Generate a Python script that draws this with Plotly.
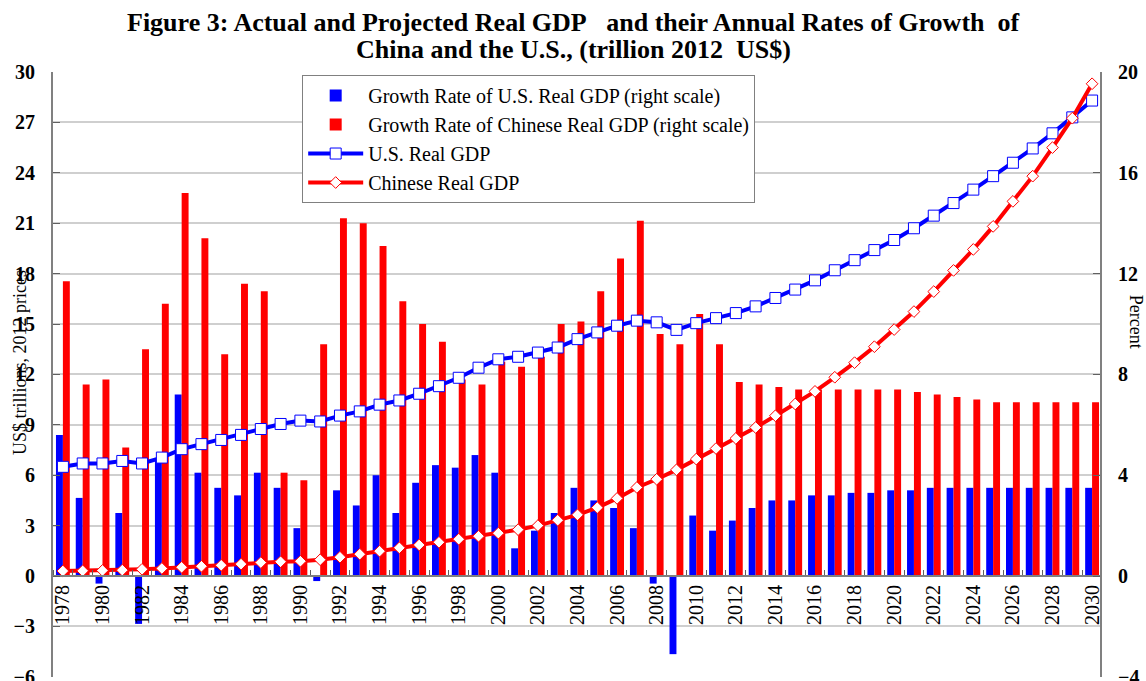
import plotly.graph_objects as go

# Data
years = list(range(1978, 2031))

us_growth = [5.6, 3.1, -0.3, 2.5, -1.9, 4.6, 7.2, 4.1, 3.5, 3.2,
             4.1, 3.5, 1.9, -0.2, 3.4, 2.8, 4.0, 2.5, 3.7, 4.4,
             4.3, 4.8, 4.1, 1.1, 1.8, 2.5, 3.5, 3.0, 2.7, 1.9,
             -0.3, -3.1, 2.4, 1.8, 2.2, 2.7, 3.0, 3.0, 3.2, 3.2,
             3.3, 3.3, 3.4, 3.4, 3.5, 3.5, 3.5, 3.5, 3.5, 3.5,
             3.5, 3.5, 3.5]

china_growth = [11.7, 7.6, 7.8, 5.1, 9.0, 10.8, 15.2, 13.4, 8.8, 11.6,
                11.3, 4.1, 3.8, 9.2, 14.2, 14.0, 13.1, 10.9, 10.0, 9.3,
                7.8, 7.6, 8.5, 8.3, 8.7, 10.0, 10.1, 11.3, 12.6, 14.1,
                9.6, 9.2, 10.4, 9.2, 7.7, 7.6, 7.5, 7.4, 7.4, 7.4,
                7.4, 7.4, 7.4, 7.3, 7.2, 7.1, 7.0, 6.9, 6.9, 6.9,
                6.9, 6.9, 6.9]

us_gdp = [6.5, 6.7, 6.7, 6.85, 6.7, 7.05, 7.55, 7.85, 8.1, 8.4,
          8.75, 9.05, 9.25, 9.2, 9.55, 9.8, 10.2, 10.45, 10.85, 11.3,
          11.8, 12.4, 12.9, 13.05, 13.3, 13.6, 14.1, 14.5, 14.9, 15.2,
          15.1, 14.65, 15.05, 15.35, 15.65, 16.05, 16.55, 17.05, 17.6, 18.2,
          18.8, 19.4, 20.0, 20.7, 21.45, 22.2, 23.0, 23.8, 24.6, 25.45,
          26.35, 27.3, 28.3]

china_gdp = [0.3, 0.31, 0.33, 0.35, 0.4, 0.45, 0.52, 0.58, 0.64, 0.71,
             0.8, 0.85, 0.88, 0.97, 1.12, 1.3, 1.48, 1.68, 1.85, 2.01,
             2.19, 2.37, 2.55, 2.76, 3.0, 3.32, 3.64, 4.07, 4.62, 5.27,
             5.76, 6.32, 6.96, 7.59, 8.19, 8.84, 9.54, 10.24, 10.99, 11.83,
             12.7, 13.65, 14.67, 15.74, 16.93, 18.19, 19.44, 20.81, 22.3, 23.8,
             25.5, 27.25, 29.3]

serif = "Liberation Serif"

# small extra below the bottom so the -6 / -4 ticks still get drawn,
# both axes stretched the same way so the zeros line up
e = 0.01
left_range = [-6 - e, 30]
right_range = [-4 - e * 2 / 3, 20]
zero_pos = (6 + e) / (36 + e)

fig = go.Figure()

# growth bars on the right (percent) axis
fig.add_trace(go.Bar(x=years, y=us_growth, name="Growth Rate of U.S. Real GDP (right scale)",
                     marker=dict(color="#0000ff", line=dict(width=0)), yaxis="y"))
fig.add_trace(go.Bar(x=years, y=china_growth, name="Growth Rate of Chinese Real GDP (right scale)",
                     marker=dict(color="#ff0000", line=dict(width=0)), yaxis="y"))

# GDP lines on the left (trillion) axis, overlaid so they sit on top of the bars
fig.add_trace(go.Scatter(x=years, y=us_gdp, name="U.S. Real GDP", mode="lines+markers",
                         line=dict(color="#0000ff", width=4),
                         marker=dict(symbol="square", size=11, color="white",
                                     line=dict(color="#0000ff", width=1)),
                         yaxis="y2"))
fig.add_trace(go.Scatter(x=years, y=china_gdp, name="Chinese Real GDP", mode="lines+markers",
                         line=dict(color="#ff0000", width=4),
                         marker=dict(symbol="diamond", size=9, color="white",
                                     line=dict(color="#ff0000", width=1)),
                         yaxis="y2"))

fig.update_layout(
    width=1146, height=681,
    margin=dict(l=53, r=46, t=72, b=4, autoexpand=False),
    paper_bgcolor="white", plot_bgcolor="white",
    barmode="group", bargap=0.3, bargroupgap=0,
    font=dict(family=serif, color="black"),
    xaxis=dict(range=[1977.5, 2030.4], tickmode="linear", tick0=1978, dtick=2,
               tickangle=-90, tickfont=dict(family=serif, size=20, color="black"),
               showgrid=False, zeroline=False, showline=True, linecolor="#808080", linewidth=2,
               ticks="", anchor="free", position=zero_pos, automargin=False,
               minor=dict(tick0=1977.5, dtick=1, ticks="inside", ticklen=5,
                          tickcolor="#606060", showgrid=False)),
    yaxis=dict(side="right", range=right_range, tickmode="linear", tick0=0, dtick=4,
               showgrid=False, zeroline=False, showline=True, linecolor="#808080", linewidth=2,
               ticks="inside", ticklen=7, tickcolor="#606060", ticklabelstandoff=12,
               ticklabeloverflow="allow", automargin=False,
               tickfont=dict(family=serif, size=20, color="black", weight="bold")),
    yaxis2=dict(side="left", overlaying="y", range=left_range, tickmode="linear", tick0=0, dtick=3,
                showgrid=True, gridcolor="#cfcfcf", gridwidth=2, zeroline=False,
                showline=True, linecolor="#808080", linewidth=2,
                ticks="inside", ticklen=7, tickcolor="#606060", ticklabelstandoff=12,
                ticklabeloverflow="allow", automargin=False,
                tickfont=dict(family=serif, size=20, color="black", weight="bold")),
    legend=dict(x=0.238, y=0.995, xanchor="left", yanchor="top",
                bgcolor="white", bordercolor="#808080", borderwidth=1, itemwidth=55,
                font=dict(family=serif, size=20, color="black"), traceorder="normal"),
    showlegend=True,
)

# title, two lines
fig.add_annotation(text="<b>Figure 3: Actual and Projected Real GDP\u00a0\u00a0 and their Annual Rates of Growth\u00a0 of</b>",
                   xref="paper", yref="paper", x=0.497, y=1.0826, xanchor="center", yanchor="middle",
                   showarrow=False, font=dict(family=serif, size=26, color="black"))
fig.add_annotation(text="<b>China and the U.S., (trillion 2012\u00a0 US$)</b>",
                   xref="paper", yref="paper", x=0.497, y=1.0364, xanchor="center", yanchor="middle",
                   showarrow=False, font=dict(family=serif, size=26, color="black"))

# axis titles
fig.add_annotation(text="US$ trillions, 2012 prices", textangle=-90,
                   xref="paper", yref="paper", x=-0.031, y=0.52, xanchor="center", yanchor="middle",
                   showarrow=False, font=dict(family=serif, size=18, color="black"))
fig.add_annotation(text="Percent", textangle=90,
                   xref="paper", yref="paper", x=1.0344, y=0.587, xanchor="center", yanchor="middle",
                   showarrow=False, font=dict(family=serif, size=18, color="black"))

fig.write_html("out.html", config={"displayModeBar": False},
               post_script="document.body.style.margin='0px';")
